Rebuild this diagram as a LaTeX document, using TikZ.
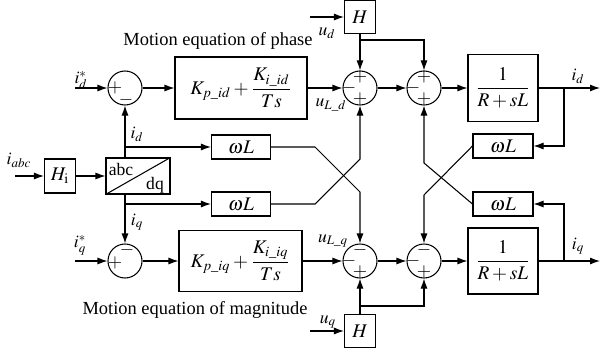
\documentclass[tikz,border=0pt]{standalone}
\usepackage{amsmath}
\usepackage{mathptmx}
\usepackage{fontspec}
\setmainfont{Liberation Serif}
\usetikzlibrary{arrows.meta}

\tikzset{
  blk/.style={draw,line width=0.6pt,inner sep=1pt,minimum height=4.8mm,font=\fontsize{11}{13}\selectfont},
  sumc/.style={draw,circle,line width=0.6pt,minimum size=6.8mm,inner sep=0pt},
  sgn/.style={inner sep=0pt,font=\fontsize{10.5}{10.5}\selectfont},
  lbl/.style={inner sep=0pt,font=\fontsize{10}{12}\selectfont},
  sig/.style={line width=0.6pt,-{Latex[length=2mm,width=1.4mm]}},
  wire/.style={line width=0.6pt},
}

\begin{document}
\begin{tikzpicture}[x=0.2mm,y=-0.2mm]
\useasboundingbox (0,0) rectangle (601,351);

% d axis (top row)
\node[sumc] (sd1) at (125,88) {};
\node[blk,minimum width=26.4mm,minimum height=12.4mm] (pid) at (241,88) {$K_{p\_id}+\dfrac{K_{i\_id}}{Ts}$};
\node[sumc] (sd2) at (360,88) {};
\node[sumc] (sd3) at (424,88) {};
\node[blk,minimum width=14mm,minimum height=13.4mm] (gd) at (503,88) {$\dfrac{1}{R+sL}$};
\node[blk,minimum width=6.2mm,minimum height=6.6mm] (hd) at (360,17) {$H$};

% transform
\node[blk,minimum width=6.2mm,minimum height=6.8mm] (hi) at (60,176) {$H_{\mathrm{i}}$};
\node[blk,minimum width=12.8mm,minimum height=7.2mm] (tr) at (138,176) {};
\draw[wire] (tr.south west) -- (tr.north east);
\node[lbl] (abc) at (121,169) {abc};
\node[lbl] (dq) at (155,185) {dq};

% coupling terms
\node[blk,minimum width=11.8mm] (wl1) at (241,147) {$\omega L$};
\node[blk,minimum width=11.8mm] (wl2) at (241,204) {$\omega L$};
\node[blk,minimum width=12mm] (wr1) at (503,146) {$\omega L$};
\node[blk,minimum width=12mm] (wr2) at (503,204) {$\omega L$};

% q axis (bottom row)
\node[sumc] (sq1) at (125,261) {};
\node[blk,minimum width=24.6mm,minimum height=12.2mm] (piq) at (240.5,261) {$K_{p\_iq}+\dfrac{K_{i\_iq}}{Ts}$};
\node[sumc] (sq2) at (360,261) {};
\node[sumc] (sq3) at (424,261) {};
\node[blk,minimum width=14mm,minimum height=13.2mm] (gq) at (503,261) {$\dfrac{1}{R+sL}$};
\node[blk,minimum width=6.2mm,minimum height=6.6mm] (hq) at (360,331) {$H$};

% signs
\node[sgn] (sd1a) at ([shift={(-10,0)}]sd1) {$+$};
\node[sgn] (sd1b) at ([shift={(1,12)}]sd1) {$-$};
\node[sgn] (sd2a) at ([shift={(0,-11)}]sd2) {$+$};
\node[sgn] (sd2b) at ([shift={(-11,0)}]sd2) {$-$};
\node[sgn] (sd2c) at ([shift={(0,11)}]sd2) {$+$};
\node[sgn] (sd3a) at ([shift={(0,-11)}]sd3) {$+$};
\node[sgn] (sd3b) at ([shift={(-11,0)}]sd3) {$-$};
\node[sgn] (sd3c) at ([shift={(0,11)}]sd3) {$+$};
\node[sgn] (sq1a) at ([shift={(-10,2)}]sq1) {$+$};
\node[sgn] (sq1b) at ([shift={(2,-11)}]sq1) {$-$};
\node[sgn] (sq2a) at ([shift={(0,-11)}]sq2) {$-$};
\node[sgn] (sq2b) at ([shift={(-11,0)}]sq2) {$-$};
\node[sgn] (sq2c) at ([shift={(0,11)}]sq2) {$+$};
\node[sgn] (sq3a) at ([shift={(0,-11)}]sq3) {$-$};
\node[sgn] (sq3b) at ([shift={(-11,0)}]sq3) {$-$};
\node[sgn] (sq3c) at ([shift={(0,11)}]sq3) {$+$};

% free ends
\coordinate (idin) at (75,88);
\coordinate (iqin) at (75,261);
\coordinate (iabcin) at (15,176);
\coordinate (udin) at (310,17);
\coordinate (uqin) at (310,331);
\coordinate (idout) at (600,88);
\coordinate (iqout) at (600,261);

% d row signals
\draw[sig] (idin) -- (sd1);
\draw[sig] (sd1) -- (pid);
\draw[sig] (pid) -- (sd2);
\draw[sig] (sd2) -- (sd3);
\draw[sig] (sd3) -- (gd);
\draw[sig] (gd) -- (idout);
\draw[sig] (udin) -- (hd);
\draw[sig] (hd) -- (sd2);
\draw[sig] (hd.south |- 0,40) -| (sd3);
\draw[sig] (564,88) |- (wr1);

% q row signals
\draw[sig] (iqin) -- (sq1);
\draw[sig] (sq1) -- (piq);
\draw[sig] (piq) -- (sq2);
\draw[sig] (sq2) -- (sq3);
\draw[sig] (sq3) -- (gq);
\draw[sig] (gq) -- (iqout);
\draw[sig] (uqin) -- (hq);
\draw[sig] (hq) -- (sq2);
\draw[sig] (hq.north |- 0,306) -| (sq3);
\draw[sig] (564,261) |- (wr2);

% measurement
\draw[sig] (iabcin) -- (hi);
\draw[sig] (hi) -- (tr);
\draw[sig] (tr.north -| sd1) -- (sd1);
\draw[sig] (tr.south -| sq1) -- (sq1);
\draw[sig] (125,147) -- (wl1);
\draw[sig] (125,204) -- (wl2);

% cross coupling
\draw[sig] (wl1.east) -- (315,147) -- (360,192) -- (sq2);
\draw[sig] (wl2.east) -- (315,204) -- (360,159) -- (sd2);
\draw[sig] (wr1.west) -- (424,195) -- (sq3);
\draw[sig] (wr2.west) -- (424,163) -- (sd3);

% labels
\node[lbl] (lidr) at (81,80) {$i_d^*$};
\node[lbl] (liqr) at (80,245) {$i_q^*$};
\node[lbl] (liabc) at (19,160) {$i_{abc}$};
\node[lbl] (lid) at (137,134) {$i_d$};
\node[lbl] (liq) at (137,222) {$i_q$};
\node[lbl] (lud) at (327,33) {$u_d$};
\node[lbl] (luq) at (328,322) {$u_q$};
\node[lbl] (luld) at (331,105) {$u_{L\_d}$};
\node[lbl] (lulq) at (333,241) {$u_{L\_q}$};
\node[lbl] (lidout) at (578,76) {$i_d$};
\node[lbl] (liqout) at (578,246) {$i_q$};
\node[lbl,font=\fontsize{10.5}{12}\selectfont] (tphase) at (218,41) {Motion equation of phase};
\node[lbl,font=\fontsize{10.5}{12}\selectfont] (tmag) at (195,310) {Motion equation of magnitude};
\end{tikzpicture}
\end{document}
